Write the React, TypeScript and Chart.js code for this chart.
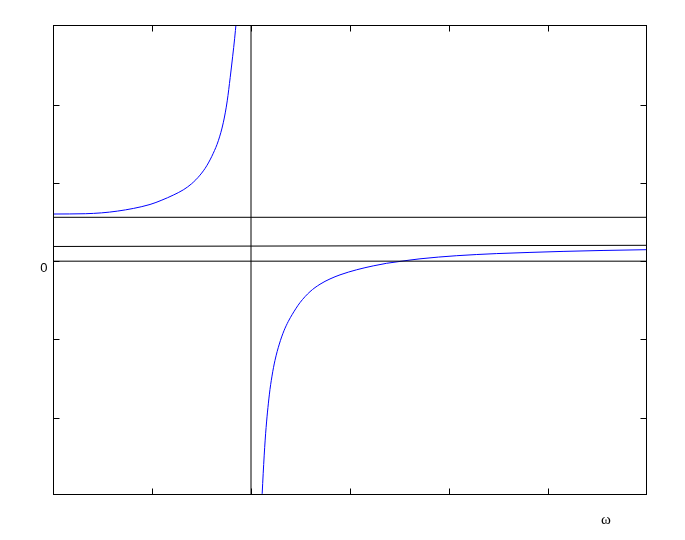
import React, { useEffect, useRef } from "react";
import { Chart, registerables } from "chart.js";

Chart.register(...registerables);

// Left branch of the curve (below the resonance)
const leftOmega = [0, 0.33, 0.65, 0.98, 1.1, 1.215, 1.316, 1.4, 1.485, 1.553, 1.619, 1.67, 1.72, 1.76, 1.79, 1.815, 1.835, 1.85, 1.87];
const leftEps = [0.603, 0.607, 0.64, 0.725, 0.781, 0.845, 0.912, 0.99, 1.1, 1.22, 1.38, 1.54, 1.77, 2.05, 2.35, 2.62, 2.85, 3.05, 3.3];

// Right branch of the curve (above the resonance)
const rightOmega = [2.108, 2.128, 2.148, 2.185, 2.212, 2.242, 2.286, 2.333, 2.377, 2.417, 2.495, 2.596, 2.697, 2.798, 2.899, 3.067, 3.235, 3.37, 3.505, 3.707, 4.078, 4.482, 4.818, 5.152, 5.556, 6.0];
const rightEps = [-3.1, -2.6, -2.2, -1.71, -1.47, -1.27, -1.06, -0.89, -0.77, -0.68, -0.53, -0.39, -0.295, -0.227, -0.175, -0.11, -0.06, -0.027, -0.003, 0.03, 0.07, 0.097, 0.112, 0.125, 0.137, 0.147];

// Reference lines
const staticLevel = [0.561, 0.561];
const highFreqLevel = [0.188, 0.203];
const zeroLevel = [0, 0];
const resonanceOmega = 2;
const lineOmegaRange = [0, 6];

// Axes
const xTicks = [1, 2, 3, 4, 5];
const yTicks = [-2, -1, 0, 1, 2];
const zeroLabel = "0";
const xAxisLabel = "ω";
const xAxisLabelAt = 5.586;

const pts = (xs: number[], ys: number[]) => xs.map((x, i) => ({ x, y: ys[i] }));

const framePlugin = {
  id: "frame",
  afterDraw(chart: any) {
    const { ctx, chartArea: a, scales } = chart;
    const xs = scales.x;
    const ys = scales.y;
    ctx.save();
    ctx.strokeStyle = "#000";
    ctx.lineWidth = 1;
    const L = Math.round(a.left) + 0.5;
    const R = Math.round(a.right) - 0.5;
    const T = Math.round(a.top) + 0.5;
    const B = Math.round(a.bottom) - 0.5;
    ctx.strokeRect(L, T, R - L, B - T);
    const tl = 6;
    ctx.beginPath();
    xTicks.forEach((v) => {
      const px = Math.round(xs.getPixelForValue(v)) + 0.5;
      ctx.moveTo(px, B);
      ctx.lineTo(px, B - tl);
      ctx.moveTo(px, T);
      ctx.lineTo(px, T + tl);
    });
    yTicks.forEach((v) => {
      const py = Math.round(ys.getPixelForValue(v)) + 0.5;
      ctx.moveTo(L, py);
      ctx.lineTo(L + tl, py);
      ctx.moveTo(R, py);
      ctx.lineTo(R - tl, py);
    });
    ctx.stroke();
    ctx.fillStyle = "#000";
    ctx.font = "13px 'Liberation Sans', Arial, sans-serif";
    ctx.textAlign = "right";
    ctx.textBaseline = "middle";
    ctx.fillText(zeroLabel, a.left - 5.5, ys.getPixelForValue(0) + 7);
    ctx.font = "15px 'Liberation Serif', 'Times New Roman', serif";
    ctx.textAlign = "center";
    ctx.fillText(xAxisLabel, xs.getPixelForValue(xAxisLabelAt), a.bottom + 25);
    ctx.restore();
  },
};

export default function App() {
  const ref = useRef<HTMLCanvasElement>(null);
  useEffect(() => {
    document.body.style.margin = "0";
    document.body.style.overflow = "hidden";
    const blackLine = {
      borderColor: "#000000",
      borderWidth: 1,
      pointRadius: 0,
      tension: 0,
      clip: 0,
    };
    const chart = new Chart(ref.current as HTMLCanvasElement, {
      type: "line",
      data: {
        datasets: [
          { ...blackLine, data: pts(lineOmegaRange, staticLevel) },
          { ...blackLine, data: pts(lineOmegaRange, highFreqLevel) },
          { ...blackLine, data: pts(lineOmegaRange, zeroLevel) },
          { ...blackLine, data: [{ x: resonanceOmega, y: -3.5 }, { x: resonanceOmega, y: 3.5 }] },
          {
            data: pts(leftOmega, leftEps),
            borderColor: "#0000ff",
            borderWidth: 1,
            pointRadius: 0,
            cubicInterpolationMode: "monotone",
            clip: 0,
          },
          {
            data: pts(rightOmega, rightEps),
            borderColor: "#0000ff",
            borderWidth: 1,
            pointRadius: 0,
            cubicInterpolationMode: "monotone",
            clip: 0,
          },
        ] as any,
      },
      options: {
        animation: false,
        responsive: false,
        parsing: false as any,
        layout: { padding: { left: 53, top: 25, right: 38, bottom: 45 } },
        plugins: { legend: { display: false }, tooltip: { enabled: false } },
        scales: {
          x: { type: "linear", min: 0, max: 6, display: false },
          y: { type: "linear", min: -2.99, max: 3.02, display: false },
        },
      },
      plugins: [framePlugin],
    });
    return () => chart.destroy();
  }, []);
  return (
    <canvas ref={ref} width={685} height={540} style={{ display: "block", background: "#fff" }} />
  );
}
